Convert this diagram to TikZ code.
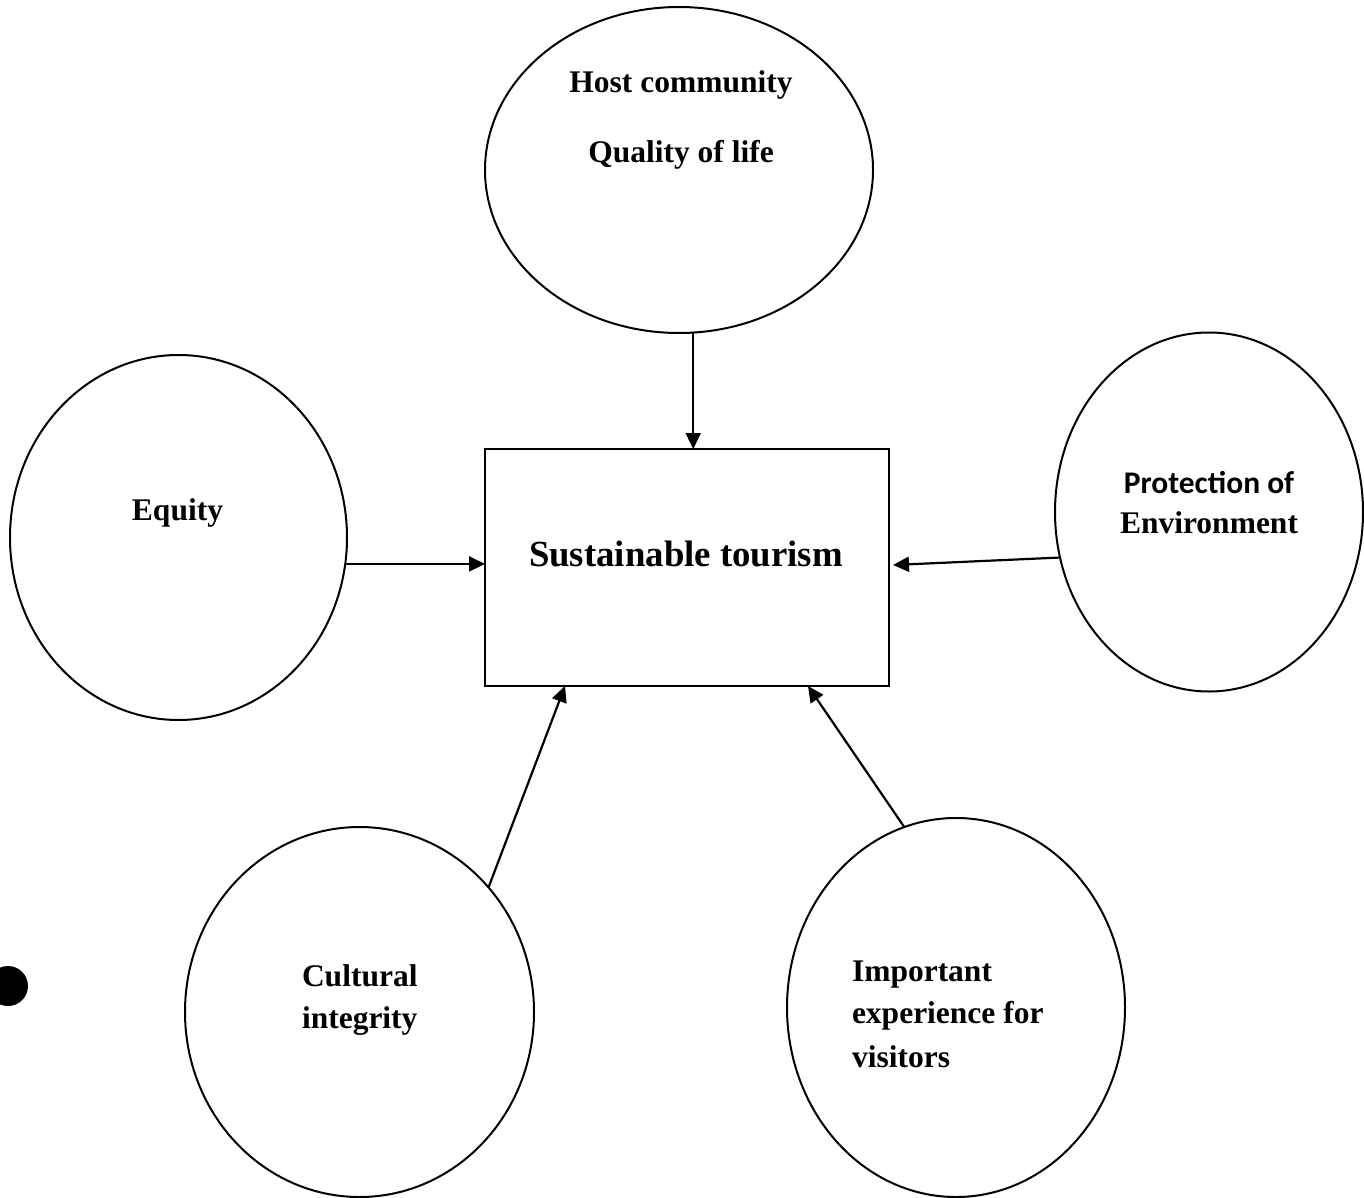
\documentclass[tikz,border=0pt]{standalone}
\usepackage{fontspec}
\setmainfont{Liberation Serif}
\newfontfamily\calibrifont{Carlito}
\usetikzlibrary{arrows.meta,shapes.geometric}
\begin{document}
\begin{tikzpicture}[x=0.5pt,y=-0.5pt,
  oval/.style={draw, ellipse, line width=1pt, inner sep=0pt, outer sep=0pt},
  boxnode/.style={draw, rectangle, line width=1pt, inner sep=0pt, outer sep=0pt},
  lbl/.style={inner sep=0pt, outer sep=0pt, font=\fontsize{15.75pt}{18pt}\selectfont\bfseries},
  conn/.style={line width=1.1pt, -{Triangle[length=8pt,width=7.5pt]}}]
\clip (0,0) rectangle (1364,1198);
\fill[white] (0,0) rectangle (1364,1198);
% ovals
\node[oval, minimum width=194pt, minimum height=163pt] (top) at (679,170) {};
\node[oval, minimum width=168.5pt, minimum height=182.5pt] (eq) at (178.5,537.5) {};
\node[oval, minimum width=154pt, minimum height=179.5pt] (env) at (1209,512) {};
\node[oval, minimum width=174.5pt, minimum height=185pt] (cult) at (359.5,1012) {};
\node[oval, minimum width=169pt, minimum height=189.5pt] (imp) at (956,1007.5) {};
\node[boxnode, minimum width=202pt, minimum height=118.5pt] (box) at (687,567.5) {};
\node[circle, fill=black, inner sep=0pt, minimum size=20pt] (dot) at (8,986) {};
% texts
\node[lbl, anchor=base] (host1) at (681,93) {Host community};
\node[lbl, anchor=base] (host2) at (681,163) {Quality of life};
\node[lbl, anchor=base] (eqt) at (177.5,520) {Equity};
\node[lbl, anchor=base, font=\fontsize{18.4pt}{22pt}\selectfont\bfseries] (st) at (686,566) {Sustainable tourism};
\node[lbl, anchor=base, font=\fontsize{15.75pt}{18pt}\selectfont\calibrifont\bfseries] (prot) at (1209,493) {Protection of};
\node[lbl, anchor=base] (envt) at (1209,533) {Environment};
\node[lbl, anchor=base west] (cult1) at (302,986) {Cultural};
\node[lbl, anchor=base west] (cult2) at (302,1028) {integrity};
\node[lbl, anchor=base west] (imp1) at (852,981) {Important};
\node[lbl, anchor=base west] (imp2) at (852,1023) {experience for};
\node[lbl, anchor=base west] (imp3) at (852,1067) {visitors};
% connectors
\draw[conn] (top.-85.4) -- (top.-85.4 |- box.north);
\draw[conn] (eq.-9.3) -- (eq.-9.3 -| box.west);
\draw[conn] (env.-163.27) -- ([xshift=2pt,yshift=1.25pt]box.east);
\draw[conn] (cult.44.23) -- ([xshift=40pt]box.south west);
\draw[conn] (imp.106.65) -- ([xshift=-40.5pt]box.south east);
\end{tikzpicture}
\end{document}
